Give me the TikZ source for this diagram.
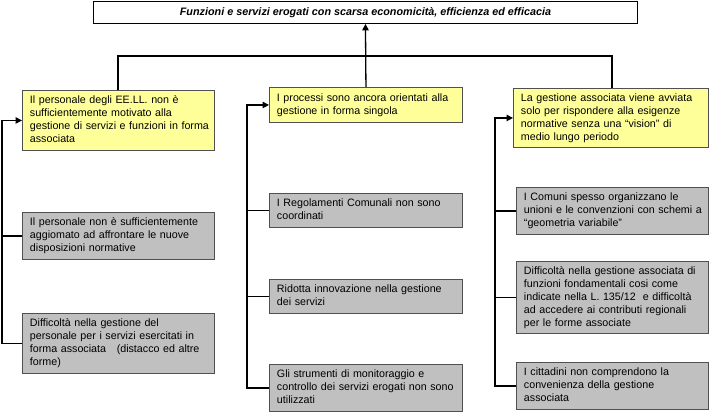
\documentclass[tikz,border=0pt]{standalone}
\usepackage{fontspec}
\setmainfont{Liberation Sans}
\usetikzlibrary{arrows.meta}
\definecolor{yel}{HTML}{FFFF99}
\definecolor{gry}{HTML}{C0C0C0}
\definecolor{edge}{HTML}{505050}
\tikzset{
  x=1pt,y=-1pt,
  cbox/.style={draw=edge,line width=0.9pt,inner xsep=6pt,inner ysep=0pt,align=left,anchor=north west,
    font=\fontsize{10.7}{13}\selectfont},
  ybox/.style={cbox,fill=yel},
  gbox/.style={cbox,fill=gry},
  conn/.style={draw=black,line width=1.3pt},
  arr/.style={conn,-{Triangle[length=6.5pt,width=6.5pt]}},
}
\newcommand{\bx}[7]{% style, name, x1, y1, x2, y2, text
  \node[#1,minimum width=#5-#3,minimum height=#6-#4,text width=#5-#3-12] (#2) at (#3,#4) {\hspace*{1.5pt}\begin{tabular}{@{}l@{}}#7\end{tabular}};}
\begin{document}
\begin{tikzpicture}
\useasboundingbox (0,0) rectangle (711,413);
\fill[white] (0,0) rectangle (711,413);
% title
\node[draw=black,line width=0.9pt,minimum width=544,minimum height=22,inner sep=0pt,anchor=north west,
  font=\fontsize{10.8}{12}\selectfont\bfseries\itshape] (top) at (93,1)
  {Funzioni e servizi erogati con scarsa economicità, efficienza ed efficacia};
% yellow boxes
\bx{ybox}{b1}{22}{90}{214}{150}{Il personale degli EE.LL. non è\\sufficientemente motivato alla\\gestione di servizi e funzioni in forma\\associata}
\bx{ybox}{b2}{269}{87}{462}{122}{I processi sono ancora orientati alla\\gestione in forma singola}
\bx{ybox}{b3}{513}{88}{708}{147}{La gestione associata viene avviata\\solo per rispondere alla esigenze\\normative senza una “vision” di\\medio lungo periodo}
% gray boxes left
\bx{gbox}{l1}{22}{212}{214}{259}{Il personale non è sufficientemente\\aggiomato ad affrontare le nuove\\disposizioni normative}
\bx{gbox}{l2}{22}{313}{214}{373}{Difficoltà nella gestione del\\personale per i servizi esercitati in\\forma associata \ \ (distacco ed altre\\forme)}
% gray boxes middle
\bx{gbox}{m1}{269}{193}{462}{227}{I Regolamenti Comunali non sono\\coordinati}
\bx{gbox}{m2}{269}{279}{462}{313}{Ridotta innovazione nella gestione\\dei servizi}
\bx{gbox}{m3}{269}{364}{462}{411}{Gli strumenti di monitoraggio e\\controllo dei servizi erogati non sono\\utilizzati}
% gray boxes right
\bx{gbox}{r1}{516}{187}{708}{234}{I Comuni spesso organizzano le\\unioni e le convenzioni con schemi a\\“geometria variabile”}
\bx{gbox}{r2}{516}{261}{708}{333}{Difficoltà nella gestione associata di\\funzioni fondamentali cosi come\\indicate nella L. 135/12 \ e difficoltà\\ad accedere ai contributi regionali\\per le forme associate}
\bx{gbox}{r3}{516}{362}{708}{409}{I cittadini non comprendono la\\convenienza della gestione\\associata}
% bus coordinates
\coordinate (xl) at (2,0);
\coordinate (xm) at (247,0);
\coordinate (xr) at (495,0);
\coordinate (j) at (b2.north |- 0,56);
\coordinate (tl) at (118,0);
\coordinate (tr) at (612,0);
% top connections
\draw[arr] (b2.north) -- (top.south);
\draw[conn] (b1.north -| tl) |- (j);
\draw[conn] (b3.north -| tr) |- (j);
% left
\draw[arr] (l2.west) -- (l2.west -| xl) -- (b1.west -| xl) -- (b1.west);
\draw[conn] (l1.west) -- (l1.west -| xl);
% middle
\draw[arr] (m3.west) -- (m3.west -| xm) -- (b2.west -| xm) -- (b2.west);
\draw[conn] (m1.west) -- (m1.west -| xm);
\draw[conn] (m2.west) -- (m2.west -| xm);
% right
\draw[arr] (r3.west) -- (r3.west -| xr) -- (b3.west -| xr) -- (b3.west);
\draw[conn] (r1.west) -- (r1.west -| xr);
\draw[conn] (r2.west) -- (r2.west -| xr);
\end{tikzpicture}
\end{document}
